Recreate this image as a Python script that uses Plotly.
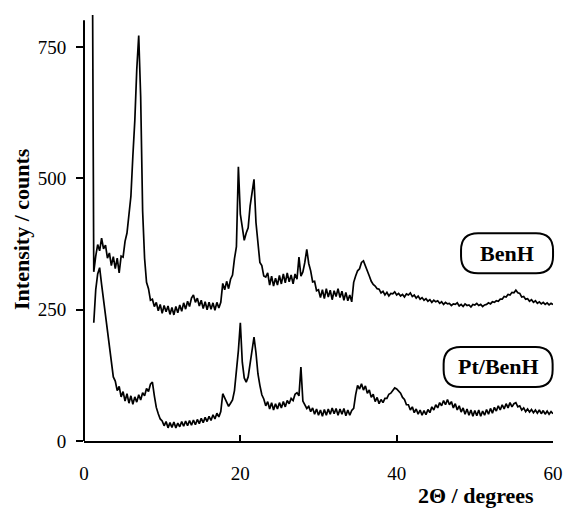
import plotly.graph_objects as go

# 2-theta sampling grid (degrees)
angles = [
    1.25, 1.5, 1.75, 2.0, 2.25, 2.5, 2.75, 3.0,
    3.25, 3.5, 3.75, 4.0, 4.25, 4.5, 4.75, 5.0,
    5.25, 5.5, 5.75, 6.0, 6.25, 6.5, 6.75, 7.0,
    7.25, 7.5, 7.75, 8.0, 8.25, 8.5, 8.75, 9.0,
    9.25, 9.5, 9.75, 10.0, 10.25, 10.5, 10.75, 11.0,
    11.25, 11.5, 11.75, 12.0, 12.25, 12.5, 12.75, 13.0,
    13.25, 13.5, 13.75, 14.0, 14.25, 14.5, 14.75, 15.0,
    15.25, 15.5, 15.75, 16.0, 16.25, 16.5, 16.75, 17.0,
    17.25, 17.5, 17.75, 18.0, 18.25, 18.5, 18.75, 19.0,
    19.25, 19.5, 19.75, 20.0, 20.25, 20.5, 20.75, 21.0,
    21.25, 21.5, 21.75, 22.0, 22.25, 22.5, 22.75, 23.0,
    23.25, 23.5, 23.75, 24.0, 24.25, 24.5, 24.75, 25.0,
    25.25, 25.5, 25.75, 26.0, 26.25, 26.5, 26.75, 27.0,
    27.25, 27.5, 27.75, 28.0, 28.25, 28.5, 28.75, 29.0,
    29.25, 29.5, 29.75, 30.0, 30.25, 30.5, 30.75, 31.0,
    31.25, 31.5, 31.75, 32.0, 32.25, 32.5, 32.75, 33.0,
    33.25, 33.5, 33.75, 34.0, 34.25, 34.5, 34.75, 35.0,
    35.25, 35.5, 35.75, 36.0, 36.25, 36.5, 36.75, 37.0,
    37.25, 37.5, 37.75, 38.0, 38.25, 38.5, 38.75, 39.0,
    39.25, 39.5, 39.75, 40.0, 40.25, 40.5, 40.75, 41.0,
    41.25, 41.5, 41.75, 42.0, 42.25, 42.5, 42.75, 43.0,
    43.25, 43.5, 43.75, 44.0, 44.25, 44.5, 44.75, 45.0,
    45.25, 45.5, 45.75, 46.0, 46.25, 46.5, 46.75, 47.0,
    47.25, 47.5, 47.75, 48.0, 48.25, 48.5, 48.75, 49.0,
    49.25, 49.5, 49.75, 50.0, 50.25, 50.5, 50.75, 51.0,
    51.25, 51.5, 51.75, 52.0, 52.25, 52.5, 52.75, 53.0,
    53.25, 53.5, 53.75, 54.0, 54.25, 54.5, 54.75, 55.0,
    55.25, 55.5, 55.75, 56.0, 56.25, 56.5, 56.75, 57.0,
    57.25, 57.5, 57.75, 58.0, 58.25, 58.5, 58.75, 59.0,
    59.25, 59.5, 59.75, 60.0,
]

# BenH: off-scale low-angle start, then the pattern on the grid
benh_start_2theta = [1.1]
benh_start_counts = [830]
benh_counts = [
    322, 352, 374, 362, 386, 366, 373, 348,
    358, 334, 351, 328, 348, 320, 352, 350,
    380, 396, 432, 466, 542, 610, 707, 772,
    655, 438, 348, 302, 290, 268, 270, 256,
    264, 248, 260, 243, 258, 246, 257, 241,
    254, 240, 256, 244, 259, 247, 263, 251,
    266, 256, 272, 278, 264, 272, 257, 268,
    252, 265, 250, 264, 251, 263, 249, 264,
    253, 264, 300, 288, 304, 290, 308, 316,
    347, 370, 522, 432, 407, 382, 396, 406,
    447, 476, 498, 416, 374, 340, 334, 314,
    312, 320, 297, 314, 295, 310, 297, 315,
    299, 318, 301, 320, 303, 316, 299, 318,
    308, 350, 314, 322, 340, 365, 338, 324,
    303, 304, 286, 288, 273, 288, 271, 290,
    274, 287, 269, 286, 275, 290, 273, 285,
    268, 283, 267, 278, 265, 302, 314, 324,
    328, 340, 343, 334, 326, 314, 304, 298,
    295, 290, 289, 282, 285, 278, 283, 276,
    281, 280, 284, 278, 281, 276, 279, 274,
    280, 278, 282, 275, 278, 272, 276, 270,
    273, 268, 271, 266, 269, 264, 268, 265,
    267, 262, 265, 260, 264, 261, 262, 258,
    261, 260, 263, 257, 260, 256, 261, 258,
    259, 255, 260, 259, 262, 258, 260, 256,
    259, 260, 263, 261, 265, 264, 267, 266,
    270, 270, 275, 274, 279, 278, 283, 282,
    287, 282, 281, 274, 275, 270, 271, 266,
    269, 264, 267, 262, 265, 261, 264, 260,
    263, 259, 262, 260,
]

ptbenh_counts = [
    225, 288, 318, 330, 298, 270, 232, 214,
    176, 150, 122, 114, 96, 104, 84, 94,
    76, 90, 72, 86, 70, 84, 74, 88,
    78, 92, 86, 100, 94, 108, 112, 86,
    64, 52, 42, 38, 29, 37, 25, 35,
    26, 36, 25, 34, 27, 37, 28, 38,
    29, 39, 30, 40, 31, 41, 33, 43,
    35, 45, 37, 47, 39, 50, 42, 53,
    46, 56, 90, 82, 74, 66, 72, 78,
    96, 128, 172, 225, 150, 120, 112, 122,
    146, 176, 198, 168, 128, 106, 88, 80,
    67, 75, 61, 73, 59, 71, 61, 73,
    63, 75, 65, 77, 71, 81, 77, 89,
    92, 86, 141, 76, 70, 62, 66, 56,
    63, 51, 61, 49, 59, 47, 60, 49,
    61, 51, 63, 52, 62, 49, 61, 51,
    62, 48, 59, 49, 58, 62, 88, 106,
    99, 109, 97, 105, 91, 97, 83, 89,
    75, 83, 71, 79, 73, 81, 81, 89,
    91, 97, 101, 99, 95, 91, 83, 79,
    69, 69, 59, 65, 54, 61, 51, 59,
    49, 58, 50, 60, 54, 65, 59, 69,
    63, 73, 67, 77, 69, 79, 69, 75,
    63, 71, 59, 67, 55, 63, 51, 61,
    49, 59, 47, 58, 48, 59, 47, 57,
    49, 60, 51, 62, 53, 64, 57, 67,
    59, 69, 61, 71, 63, 73, 65, 71,
    73, 65, 67, 59, 63, 56, 61, 55,
    60, 54, 59, 53, 59, 52, 58, 51,
    57, 51, 56, 52,
]

y_ticks = [0, 250, 500, 750]
x_ticks = [0, 20, 40, 60]
series_labels = ["BenH", "Pt/BenH"]

SERIF = "Liberation Serif"

fig = go.Figure()
fig.add_trace(go.Scatter(
    x=benh_start_2theta + angles, y=benh_start_counts + benh_counts,
    mode="lines", line=dict(color="black", width=1.7), name=series_labels[0],
))
fig.add_trace(go.Scatter(
    x=angles, y=ptbenh_counts,
    mode="lines", line=dict(color="black", width=1.7), name=series_labels[1],
))

fig.update_layout(
    width=564, height=508, autosize=False,
    margin=dict(l=84, r=11, t=15, b=67, autoexpand=False),
    paper_bgcolor="white", plot_bgcolor="white",
    showlegend=False,
    font=dict(family=SERIF, color="black", size=19),
)
fig.update_xaxes(
    range=[0, 60], tickvals=x_ticks, ticktext=[str(v) for v in x_ticks],
    automargin=False,
    showgrid=False, zeroline=False, showline=True, linecolor="black", linewidth=2,
    ticks="inside", ticklen=6, tickwidth=2, tickcolor="black",
    ticklabelstandoff=14, tickfont=dict(family=SERIF, size=19, color="black"),
)
fig.update_yaxes(
    range=[0, 811], tickvals=y_ticks, ticktext=[str(v) for v in y_ticks],
    automargin=False,
    showgrid=False, zeroline=False, showline=False,
    ticks="outside", ticklen=7, tickwidth=1.5, tickcolor="black",
    ticklabelstandoff=6, tickfont=dict(family=SERIF, size=19, color="black"),
)

# y axis line (stops a little below the top of the plotting area)
fig.add_shape(type="line", xref="paper", yref="y", x0=0, x1=0, y0=0, y1=801,
              line=dict(color="black", width=2))


def rounded_box(w, h, r):
    a, b = w / 2, h / 2
    return (f"M {-a + r},{-b} L {a - r},{-b} Q {a},{-b} {a},{-b + r} "
            f"L {a},{b - r} Q {a},{b} {a - r},{b} L {-a + r},{b} "
            f"Q {-a},{b} {-a},{b - r} L {-a},{-b + r} Q {-a},{-b} {-a + r},{-b} Z")


label_specs = [
    (series_labels[0], 0.902, 0.441, 92),
    (series_labels[1], 0.883, 0.174, 109),
]
for text, px, py, w in label_specs:
    fig.add_shape(type="path", xref="paper", yref="paper",
                  xsizemode="pixel", ysizemode="pixel", xanchor=px, yanchor=py,
                  path=rounded_box(w, 40, 17),
                  line=dict(color="black", width=2), fillcolor="white")
    fig.add_annotation(text=text, xref="paper", yref="paper", x=px, y=py,
                       xanchor="center", yanchor="middle", showarrow=False,
                       font=dict(family=SERIF, size=22, color="black", weight="bold"))

fig.add_annotation(text="Intensity / counts", xref="paper", yref="paper",
                   x=-0.132, y=0.498, xanchor="center", yanchor="middle",
                   textangle=-90, showarrow=False,
                   font=dict(family=SERIF, size=22, color="black", weight="bold"))
fig.add_annotation(text="2Θ / degrees", xref="paper", yref="paper",
                   x=0.836, y=-0.127, xanchor="center", yanchor="middle",
                   showarrow=False,
                   font=dict(family=SERIF, size=22, color="black", weight="bold"))

fig.write_html(
    "out.html",
    config={"responsive": False, "displayModeBar": False},
    default_width="564px", default_height="508px",
    post_script="document.body.style.margin='0';document.body.style.padding='0';"
                "document.body.style.overflow='hidden';",
)
